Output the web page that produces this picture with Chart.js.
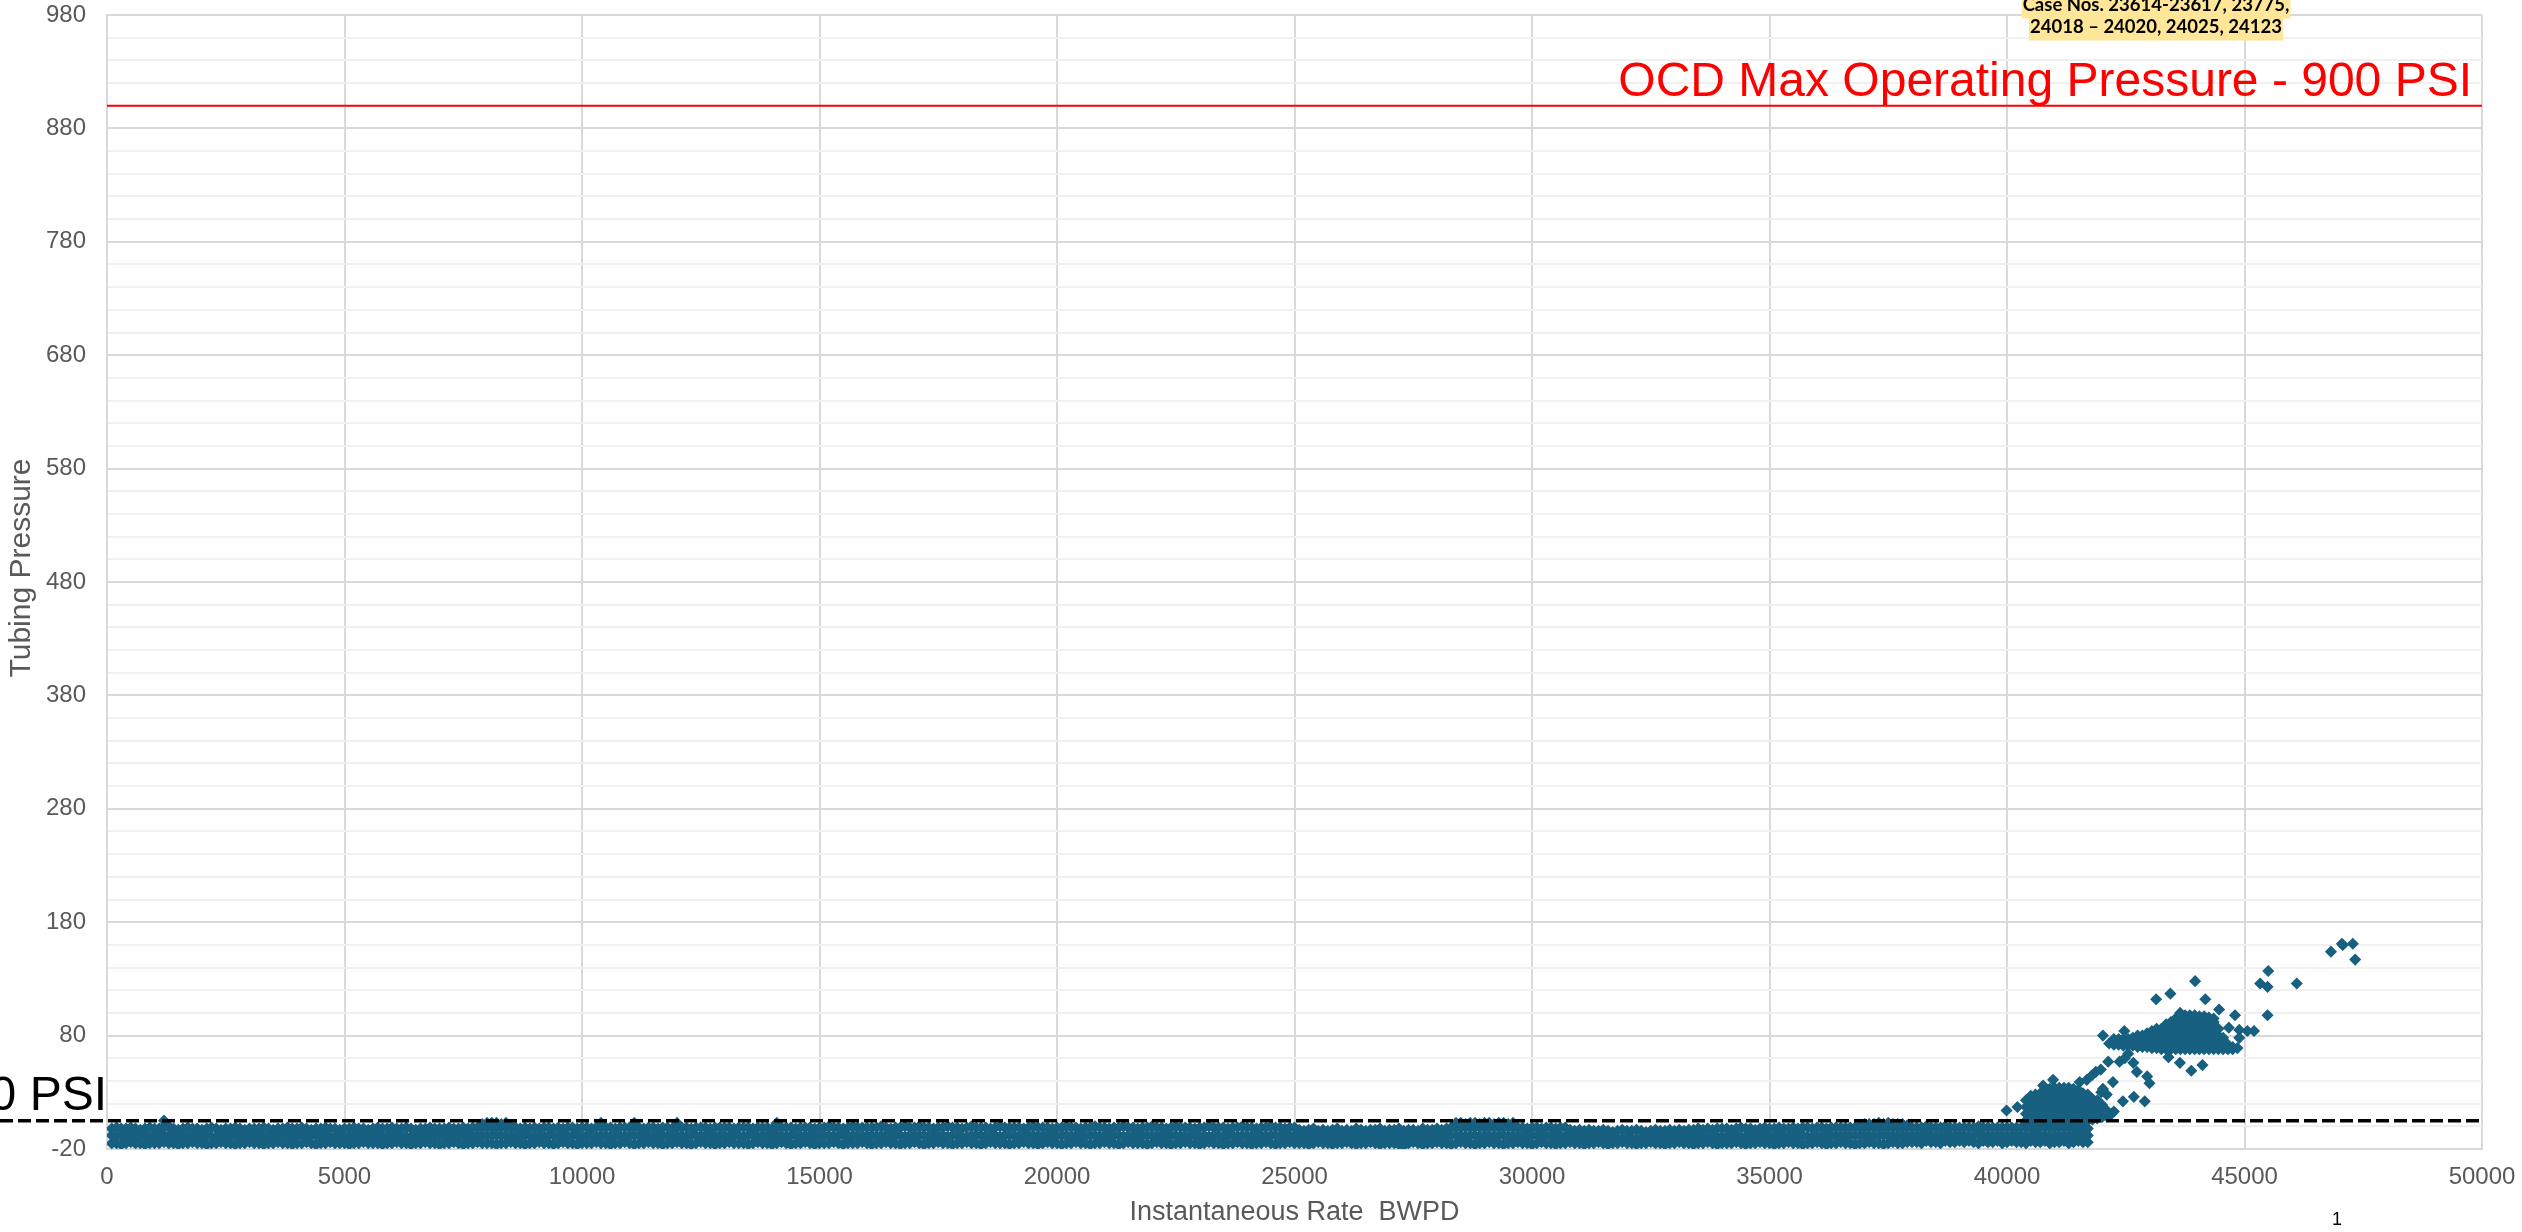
<!DOCTYPE html>
<html><head><meta charset="utf-8">
<script src="https://cdn.jsdelivr.net/npm/chart.js@4.4.1/dist/chart.umd.min.js"></script>
<style>html,body{margin:0;padding:0;background:#fff;overflow:hidden}</style>
</head><body>
<canvas id="c" width="2522" height="1232" style="display:block;width:2522px;height:1232px"></canvas>
<script>
// ---------- axis definitions ----------
const xMin = 0, xMax = 50000, xStep = 5000;
const yMin = -20, yMax = 980, yStep = 20, yLabelStep = 100;
const xTitle = 'Instantaneous Rate  BWPD';
const yTitle = 'Tubing Pressure';
const maxPressurePsi = 900;
const maxPressureLabel = 'OCD Max Operating Pressure - 900 PSI';
const lowLinePsi = 5;
const lowLineLabel = '0 PSI';
const caseNoteLines = ['Case Nos. 23614-23617, 23775,', '24018 \u2013 24020, 24025, 24123'];
const pageNumber = '1';

// ---------- dense band of readings (rate bins, upper / middle / lower pressure) ----------
const bandRate = [
100,200,300,400,500,600,700,800,900,1000,
1100,1200,1300,1400,1500,1600,1700,1800,1900,2000,
2100,2200,2300,2400,2500,2600,2700,2800,2900,3000,
3100,3200,3300,3400,3500,3600,3700,3800,3900,4000,
4100,4200,4300,4400,4500,4600,4700,4800,4900,5000,
5100,5200,5300,5400,5500,5600,5700,5800,5900,6000,
6100,6200,6300,6400,6500,6600,6700,6800,6900,7000,
7100,7200,7300,7400,7500,7600,7700,7800,7900,8000,
8100,8200,8300,8400,8500,8600,8700,8800,8900,9000,
9100,9200,9300,9400,9500,9600,9700,9800,9900,10000,
10100,10200,10300,10400,10500,10600,10700,10800,10900,11000,
11100,11200,11300,11400,11500,11600,11700,11800,11900,12000,
12100,12200,12300,12400,12500,12600,12700,12800,12900,13000,
13100,13200,13300,13400,13500,13600,13700,13800,13900,14000,
14100,14200,14300,14400,14500,14600,14700,14800,14900,15000,
15100,15200,15300,15400,15500,15600,15700,15800,15900,16000,
16100,16200,16300,16400,16500,16600,16700,16800,16900,17000,
17100,17200,17300,17400,17500,17600,17700,17800,17900,18000,
18100,18200,18300,18400,18500,18600,18700,18800,18900,19000,
19100,19200,19300,19400,19500,19600,19700,19800,19900,20000,
20100,20200,20300,20400,20500,20600,20700,20800,20900,21000,
21100,21200,21300,21400,21500,21600,21700,21800,21900,22000,
22100,22200,22300,22400,22500,22600,22700,22800,22900,23000,
23100,23200,23300,23400,23500,23600,23700,23800,23900,24000,
24100,24200,24300,24400,24500,24600,24700,24800,24900,25000,
25100,25200,25300,25400,25500,25600,25700,25800,25900,26000,
26100,26200,26300,26400,26500,26600,26700,26800,26900,27000,
27100,27200,27300,27400,27500,27600,27700,27800,27900,28000,
28100,28200,28300,28400,28500,28600,28700,28800,28900,29000,
29100,29200,29300,29400,29500,29600,29700,29800,29900,30000,
30100,30200,30300,30400,30500,30600,30700,30800,30900,31000,
31100,31200,31300,31400,31500,31600,31700,31800,31900,32000,
32100,32200,32300,32400,32500,32600,32700,32800,32900,33000,
33100,33200,33300,33400,33500,33600,33700,33800,33900,34000,
34100,34200,34300,34400,34500,34600,34700,34800,34900,35000,
35100,35200,35300,35400,35500,35600,35700,35800,35900,36000,
36100,36200,36300,36400,36500,36600,36700,36800,36900,37000,
37100,37200,37300,37400,37500,37600,37700,37800,37900,38000,
38100,38200,38300,38400,38500,38600,38700,38800,38900,39000,
39100,39200,39300,39400,39500,39600,39700,39800,39900,40000,
40100,40200,40300,40400,40500,40600,40700,40800,40900,41000,
41100,41200,41300,41400,41500,41600,41700];
const bandHigh = [
-2,-1,-2,-2,-1,-2,-3,-2,-1,-2,
-2,-1,0,-2,-3,-2,-1,-2,-2,-3,
-2,-1,-2,-3,-2,-2,-1,-2,-3,-2,
-2,-2,-1,-2,-3,-2,-2,-1,-2,-2,
-1,-2,-3,-2,-2,-1,-2,-2,-3,-2,
-2,-1,-2,-2,-3,-2,-1,-2,-2,-1,
-2,-2,-1,-2,-3,-2,-2,-1,-2,-2,
-2,-1,-2,-2,-1,-2,-1,-1,-1,-1,
-1,-1,-1,-1,-1,-1,-2,-1,-2,-1,
-2,-1,-1,-2,-1,-2,-1,-1,-2,-1,
-1,-2,-1,-1,-1,-1,-2,-1,-1,-1,
-1,-1,-2,-1,-1,-2,-1,-1,-2,-1,
-1,-1,-2,-1,-1,-1,-2,-1,-1,-1,
-1,-2,-1,-1,-1,-2,-1,-1,-1,-2,
-1,-1,-1,-1,-2,-1,-1,-1,-2,-1,
-1,0,-1,-1,-2,-1,0,-1,-1,-1,
-1,-1,0,-1,-2,-1,-1,0,-1,-1,
0,-1,-1,-2,-1,-1,0,-1,-1,-2,
-1,0,-1,-1,-1,-2,-1,0,-1,-1,
-1,-1,-2,-1,0,-1,-1,-1,-2,-1,
-1,0,-1,-1,-2,-1,-1,0,-1,-1,
-2,-1,-1,0,-1,-1,-2,-1,-1,0,
-1,-1,-2,-1,0,-1,-1,-1,-2,-1,
-1,0,-1,-1,-1,-2,-1,-1,0,-1,
-1,-2,-1,-1,0,-1,-1,-2,-1,-1,
-3,-4,-3,-2,-4,-3,-4,-3,-2,-4,
-3,-4,-2,-3,-4,-3,-3,-2,-4,-3,
-3,-2,-4,-3,-3,-4,-2,-3,-3,-2,
-3,-2,-1,-1,-1,-1,-1,-1,-1,-1,
-1,-1,-1,-1,-1,-1,-1,-1,-2,-1,
-1,-2,-1,-1,-2,-1,-1,-3,-4,-3,
-4,-3,-4,-4,-3,-4,-5,-4,-3,-4,
-4,-3,-4,-5,-4,-3,-4,-4,-3,-4,
-3,-4,-3,-3,-2,-3,-2,-3,-2,-2,
-2,-3,-2,-1,-2,-2,-3,-2,-1,-2,
-2,-1,-2,-2,-1,-2,-1,-1,-2,-1,
-1,-2,-1,-1,-1,-1,-1,-1,-1,-1,
-1,-1,-1,-1,-1,-1,-1,-1,-1,-1,
-1,-1,0,-1,-1,-1,0,-1,-1,-1,
-1,-1,-1,0,-1,-1,-1,-1,-1,-1,
-1,-1,-1,-1,-1,0,-1,-1,-1,-1,
-1,-1,-1,-1,-2,-1,-2];
const bandMid = [
-8,-9,-8,-9,-8,-8,-9,-8,-9,-8,
-9,-8,-8,-9,-9,-8,-9,-8,-8,-9,
-8,-9,-9,-8,-8,-9,-8,-9,-8,-8,
-9,-8,-9,-8,-9,-9,-8,-8,-9,-8,
-8,-9,-8,-8,-9,-8,-9,-9,-8,-9,
-9,-8,-9,-8,-8,-9,-8,-9,-9,-8,
-8,-8,-9,-9,-8,-9,-8,-8,-9,-8,
-9,-8,-8,-9,-8,-9,-8,-8,-8,-8,
-8,-8,-8,-8,-8,-8,-9,-8,-8,-9,
-8,-9,-8,-8,-9,-8,-9,-8,-8,-9,
-8,-8,-9,-8,-8,-9,-8,-8,-9,-8,
-8,-8,-9,-8,-8,-9,-8,-9,-8,-8,
-8,-9,-8,-8,-9,-8,-8,-9,-8,-8,
-9,-8,-8,-9,-8,-8,-9,-8,-8,-9,
-8,-8,-9,-8,-8,-9,-8,-8,-9,-8,
-8,-8,-9,-8,-8,-9,-8,-8,-8,-9,
-8,-9,-8,-8,-9,-8,-8,-9,-8,-8,
-8,-8,-9,-8,-8,-8,-9,-8,-8,-9,
-9,-8,-8,-8,-9,-8,-8,-9,-8,-8,
-8,-9,-8,-8,-8,-9,-8,-8,-9,-8,
-8,-8,-9,-8,-9,-8,-8,-8,-9,-8,
-9,-8,-8,-9,-8,-8,-9,-8,-8,-8,
-8,-8,-9,-8,-8,-9,-8,-8,-8,-9,
-8,-9,-8,-8,-9,-8,-8,-9,-8,-8,
-9,-8,-8,-9,-8,-8,-9,-8,-9,-8,
-9,-10,-9,-9,-10,-9,-10,-9,-9,-10,
-9,-10,-9,-9,-10,-9,-9,-9,-10,-9,
-9,-9,-10,-9,-9,-10,-9,-9,-10,-9,
-9,-9,-8,-8,-8,-9,-8,-8,-9,-8,
-8,-9,-8,-8,-9,-8,-8,-8,-9,-8,
-8,-9,-8,-8,-9,-8,-9,-9,-10,-10,
-10,-10,-11,-10,-10,-11,-10,-10,-11,-10,
-10,-11,-10,-10,-11,-10,-10,-11,-10,-10,
-10,-10,-9,-10,-9,-9,-10,-9,-9,-9,
-9,-9,-8,-9,-9,-8,-9,-9,-8,-9,
-9,-8,-9,-9,-8,-9,-8,-9,-9,-8,
-8,-9,-8,-8,-8,-8,-8,-8,-8,-8,
-8,-8,-8,-8,-8,-8,-8,-8,-8,-8,
-8,-8,-7,-8,-8,-8,-7,-8,-8,-8,
-8,-8,-8,-7,-8,-8,-8,-8,-8,-8,
-8,-8,-8,-8,-8,-7,-8,-8,-8,-8,
-8,-8,-8,-8,-8,-8,-8];
const bandLow = [
-15,-15,-16,-15,-14,-15,-15,-16,-15,-15,
-15,-14,-15,-15,-16,-15,-15,-14,-15,-15,
-16,-15,-15,-14,-15,-15,-16,-15,-15,-14,
-15,-15,-16,-15,-15,-14,-15,-15,-16,-15,
-15,-14,-15,-16,-15,-15,-14,-15,-15,-15,
-16,-15,-15,-14,-15,-15,-15,-16,-15,-15,
-14,-15,-15,-16,-15,-15,-14,-15,-15,-16,
-15,-15,-14,-15,-16,-15,-15,-14,-15,-15,
-15,-16,-15,-15,-14,-15,-15,-16,-15,-15,
-14,-15,-15,-16,-15,-14,-15,-15,-16,-15,
-15,-15,-14,-15,-15,-16,-15,-15,-14,-15,
-16,-15,-15,-14,-15,-15,-16,-15,-15,-14,
-15,-15,-16,-15,-14,-15,-15,-16,-15,-15,
-14,-15,-15,-15,-16,-15,-14,-15,-15,-16,
-15,-14,-15,-16,-15,-15,-14,-15,-16,-15,
-15,-15,-14,-15,-16,-15,-15,-15,-14,-15,
-16,-15,-15,-14,-15,-15,-16,-15,-15,-14,
-15,-16,-15,-15,-14,-15,-15,-16,-15,-15,
-14,-15,-15,-16,-15,-14,-15,-15,-15,-16,
-15,-15,-14,-15,-15,-16,-15,-14,-15,-15,
-16,-15,-15,-14,-15,-15,-16,-15,-15,-14,
-15,-15,-16,-15,-14,-15,-15,-15,-16,-15,
-14,-15,-15,-16,-15,-15,-14,-15,-15,-16,
-15,-14,-15,-15,-16,-15,-15,-14,-15,-15,
-16,-15,-15,-14,-15,-16,-15,-15,-14,-15,
-15,-15,-16,-15,-14,-15,-15,-16,-15,-15,
-14,-15,-16,-15,-15,-14,-15,-16,-15,-15,
-15,-16,-17,-15,-14,-15,-16,-15,-15,-14,
-15,-15,-16,-15,-14,-15,-15,-16,-15,-15,
-14,-15,-15,-16,-15,-15,-14,-15,-15,-16,
-15,-14,-15,-15,-16,-15,-15,-14,-15,-15,
-16,-15,-15,-14,-15,-16,-15,-15,-14,-15,
-15,-16,-15,-15,-14,-15,-15,-16,-15,-15,
-14,-15,-15,-16,-15,-15,-14,-15,-16,-15,
-15,-15,-14,-15,-16,-15,-15,-14,-15,-15,
-16,-15,-15,-14,-15,-15,-16,-15,-15,-14,
-15,-16,-15,-15,-14,-15,-15,-16,-15,-15,
-14,-15,-15,-16,-15,-14,-15,-15,-14,-14,
-14,-15,-13,-14,-14,-15,-13,-14,-14,-13,
-14,-13,-14,-15,-13,-14,-14,-13,-15,-14,
-13,-14,-14,-15,-13,-14,-14,-13,-15,-14,
-14,-13,-15,-14,-13,-14,-14];

// ---------- readings standing just above the band ----------
const bumpRate = [1200,7900,8000,8100,8200,8300,8400,8500,10400,11100,12000,14100,
 28400,28500,28600,28700,28800,28900,29000,29100,29200,29300,29400,29500,29600,
 36900,37000,37100,37200,37300,37400,37500,37600,37700,37800,37900];
const bumpPsi = [5,2,3,3,3,2,3,1,3,3,3,3,
 3,3,2,3,3,2,3,3,2,3,3,2,3,
 1,2,2,2,3,2,3,2,2,2,1];

// ---------- clusters above the band: [rate, pressure, pressure, ...] ----------
const lowerClusterColumns = [
[40400,5,11,17,23],[40500,5,11,17,23,27],[40600,5,11,17,23,28],[40700,5,11,17,23,29],
[40800,5,11,17,23,29,32],[40900,5,11,17,23,29,33],[41000,5,11,17,23,29,34],[41100,5,11,17,23,29,34],
[41200,5,11,17,23,29,34],[41300,5,11,17,23,29,34],[41400,5,11,17,23,29,33],[41500,5,11,17,23,29,32],
[41600,5,11,17,23,29],[41700,5,11,17,23,28],[41800,6,12,18,24],[41900,7,13,19,23],
[42000,8,14,19],[42100,9,14],[42200,11]];
const upperClusterColumns = [
[42150,73],[42250,72,77],[42350,72,77],[42450,71,77],[42550,71,77],[42650,71,78],
[42750,70,76,80],[42850,70,76,80],[42950,70,76,82],[43050,69,75,81,84],[43150,69,75,81,86],
[43250,68,74,80,86],[43350,68,74,80,86,90],[43450,68,74,80,86,92],[43550,68,74,80,86,92,95],
[43650,68,74,80,86,92,97],[43750,68,74,80,86,92,98],[43850,68,74,80,86,92,98],[43950,68,74,80,86,92,98],
[44050,68,74,80,86,92,97],[44150,68,74,80,86,92,97],[44250,68,74,80,86,92,96],[44350,68,74,80,86,92,95],
[44450,68,74,80,86],[44550,68,73,78],[44650,68,72],[44750,68,70],[44850,69]];

// ---------- scattered individual readings ----------
const outlierRate = [39990,40220,40760,40970,41530,41680,41790,41870,41975,41985,42020,42100,42130,42230,42370,
 42480,42550,42660,42735,42950,43000,42440,42670,42900,42250,42020,42470,43140,43440,43960,44175,43400,43640,
 43880,44115,43645,44465,44800,44670,44890,45060,45200,44890,45330,45485,45500,45485,46100,46820,47050,47070,47280,47330];
const outlierPsi = [14,17,36,41,39,41,45,48,50,30,33,28,57,39,57,
 60,64,56,48,44,38,22,26,22,13,80,84,112,117,128,112,61,56,
 49,54,100,103,98,87,85,84,84,78,126,123,137,98,126,154,161,160,161,147];

// ---------- build the series ----------
const readings = [];
bandRate.forEach((r, i) => {
  readings.push({x: r, y: bandHigh[i]}, {x: r, y: bandMid[i]}, {x: r, y: bandLow[i]});
});
bumpRate.forEach((r, i) => readings.push({x: r, y: bumpPsi[i]}));
[...lowerClusterColumns, ...upperClusterColumns].forEach(([r, ...ps]) => ps.forEach(p => readings.push({x: r, y: p})));
outlierRate.forEach((r, i) => readings.push({x: r, y: outlierPsi[i]}));

const TEAL = '#186080';
const FONT = '"Liberation Sans", Arial, Helvetica, sans-serif';
const GRID_MAJOR = '#d9d9d9', GRID_MINOR = '#f0f0f0';

const annotationPlugin = {
  id: 'annotations',
  afterDatasetsDraw(chart) {
    const {ctx, chartArea, scales: {y}} = chart;
    ctx.save();
    // dashed reference line
    const yLow = y.getPixelForValue(lowLinePsi);
    ctx.strokeStyle = '#000';
    ctx.lineWidth = 3.5;
    ctx.setLineDash([13, 5]);
    ctx.beginPath();
    ctx.moveTo(0, yLow);
    ctx.lineTo(chartArea.right, yLow);
    ctx.stroke();
    ctx.setLineDash([]);
    // labels
    ctx.font = '48px ' + FONT;
    ctx.textBaseline = 'alphabetic';
    ctx.textAlign = 'right';
    ctx.fillStyle = '#000';
    ctx.fillText(lowLineLabel, chartArea.left, yLow - 10.5);
    const yMaxPx = y.getPixelForValue(maxPressurePsi);
    ctx.fillStyle = '#ff0000';
    ctx.fillText(maxPressureLabel, chartArea.right - 10, yMaxPx - 10);
    // y axis title
    ctx.save();
    ctx.translate(22, 568);
    ctx.rotate(-Math.PI / 2);
    ctx.font = '30px ' + FONT;
    ctx.fillStyle = '#595959';
    ctx.textAlign = 'center';
    ctx.textBaseline = 'middle';
    ctx.fillText(yTitle, 0, 0);
    ctx.restore();
    ctx.restore();
  },
  afterDraw(chart) {
    const {ctx} = chart;
    ctx.save();
    ctx.font = 'bold 18.5px Lato, "Open Sans", sans-serif';
    ctx.textAlign = 'center';
    ctx.textBaseline = 'alphabetic';
    const cx = 2156;
    const baselines = [11, 33];
    caseNoteLines.forEach((t, i) => {
      const w = ctx.measureText(t).width;
      ctx.fillStyle = '#ffe699';
      ctx.fillRect(cx - w / 2 - 1, baselines[i] - 15, w + 2, 22.5);
    });
    ctx.fillStyle = '#000';
    caseNoteLines.forEach((t, i) => ctx.fillText(t, cx, baselines[i]));
    ctx.font = '18px ' + FONT;
    ctx.fillText(pageNumber, 2337, 1225);
    ctx.restore();
  }
};

new Chart(document.getElementById('c'), {
  type: 'scatter',
  data: {
    datasets: [
      {
        label: 'Tubing Pressure',
        data: readings,
        pointStyle: 'rectRot',
        pointRadius: 5,
        borderWidth: 1.5,
        backgroundColor: TEAL,
        borderColor: TEAL,
        order: 2
      },
      {
        type: 'line',
        label: 'Max Operating Pressure',
        data: [{x: xMin, y: maxPressurePsi}, {x: xMax, y: maxPressurePsi}],
        borderColor: '#ff0000',
        borderWidth: 2,
        pointRadius: 0,
        fill: false,
        order: 1
      }
    ]
  },
  options: {
    responsive: false,
    animation: false,
    events: [],
    layout: {padding: {left: 0, right: 40, top: 15, bottom: 0}},
    plugins: {legend: {display: false}, tooltip: {enabled: false}},
    scales: {
      x: {
        type: 'linear', min: xMin, max: xMax,
        ticks: {stepSize: xStep, autoSkip: false, maxRotation: 0, color: '#595959', padding: 14,
                font: {family: FONT, size: 24}, callback: v => String(v)},
        grid: {color: GRID_MAJOR, lineWidth: 2, drawTicks: false},
        border: {color: GRID_MAJOR, width: 2},
        title: {display: true, text: xTitle, color: '#595959', font: {family: FONT, size: 27}, padding: {top: 0, bottom: 3}},
        afterFit(s) { s.height = 83; s.paddingLeft = 0; s.paddingRight = 0; }
      },
      y: {
        type: 'linear', min: yMin, max: yMax,
        ticks: {stepSize: yStep, autoSkip: false, color: '#595959', padding: 21,
                font: {family: FONT, size: 24},
                callback: v => ((v - yMin) % yLabelStep === 0 ? String(v) : '')},
        grid: {
          color: c => (c.tick && (c.tick.value - yMin) % yLabelStep === 0 ? GRID_MAJOR : GRID_MINOR),
          lineWidth: 2, drawTicks: false
        },
        border: {color: GRID_MAJOR, width: 2},
        title: {display: false},
        afterFit(s) { s.width = 107; s.paddingTop = 0; s.paddingBottom = 0; }
      }
    }
  },
  plugins: [annotationPlugin]
});
</script>
</body></html>
